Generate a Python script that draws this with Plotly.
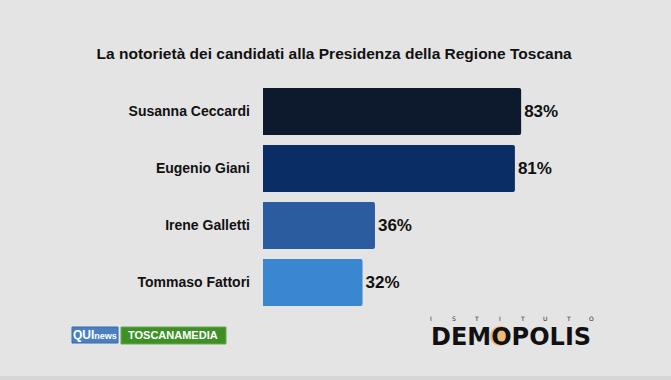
import plotly.graph_objects as go

candidates = ["Susanna Ceccardi", "Eugenio Giani", "Irene Galletti", "Tommaso Fattori"]
values = [83, 81, 36, 32]
colors = ["#0d1a2e", "#0b2d66", "#2b5ca0", "#3a86d1"]
title_text = "La notorietà dei candidati alla Presidenza della Regione Toscana"

W, H = 671, 380
L, R, T, B = 263, 97, 83, 69
FONT = "Liberation Sans, Arial, sans-serif"


def px_x(px):
    return (px - L) / (W - L - R)


def px_y(py):
    return (H - B - py) / (H - T - B)


fig = go.Figure(
    go.Bar(
        y=candidates,
        x=values,
        orientation="h",
        marker=dict(color=colors, line=dict(width=0), cornerradius=2),
        text=[f"{v}%" for v in values],
        textposition="outside",
        cliponaxis=False,
        textfont=dict(family=FONT, size=17, color="#111111", weight="bold"),
        hoverinfo="skip",
    )
)

shapes = []
annotations = []

# bottom strip
shapes.append(dict(type="rect", xref="paper", yref="paper",
                   x0=px_x(0), x1=px_x(W), y0=px_y(380), y1=px_y(376),
                   fillcolor="#d6d6d6", line=dict(width=0), layer="below"))

# QUInews logo
shapes.append(dict(type="rect", xref="paper", yref="paper",
                   x0=px_x(72), x1=px_x(118), y0=px_y(343), y1=px_y(327),
                   fillcolor="#4a80c2", line=dict(color="#3a6aa8", width=1)))
annotations.append(dict(xref="paper", yref="paper", x=px_x(95), y=px_y(335),
                        xanchor="center", yanchor="middle",
                        text="<b>QUI</b><span style='font-size:9px'><b>news</b></span>",
                        showarrow=False, font=dict(family=FONT, size=12, color="white")))
# TOSCANAMEDIA logo
shapes.append(dict(type="rect", xref="paper", yref="paper",
                   x0=px_x(121), x1=px_x(226), y0=px_y(344), y1=px_y(327),
                   fillcolor="#3d8f26", line=dict(color="#6aa84a", width=1)))
annotations.append(dict(xref="paper", yref="paper", x=px_x(173), y=px_y(334.5),
                        xanchor="center", yanchor="middle",
                        text="<b>TOSCANAMEDIA</b>",
                        showarrow=False, font=dict(family=FONT, size=11, color="white")))

# DEMOPOLIS logo
shapes.append(dict(type="circle", xref="paper", yref="paper",
                   x0=px_x(490), x1=px_x(510), y0=px_y(346), y1=px_y(326),
                   fillcolor="#f0a030", opacity=0.6, line=dict(width=0)))
annotations.append(dict(xref="paper", yref="paper", x=px_x(511), y=px_y(337),
                        xanchor="center", yanchor="middle",
                        text="<b>DEMOPOLIS</b>", showarrow=False,
                        font=dict(family="DejaVu Sans, sans-serif", size=24, color="#111111")))
letters = "ISTITUTO"
for i, ch in enumerate(letters):
    xp = 431 + i * (591 - 431) / (len(letters) - 1)
    annotations.append(dict(xref="paper", yref="paper", x=px_x(xp), y=px_y(318),
                            xanchor="center", yanchor="middle",
                            text=ch, showarrow=False,
                            font=dict(family="DejaVu Sans, sans-serif", size=6, color="#222222")))

fig.update_layout(
    width=W, height=H,
    margin=dict(l=L, r=R, t=T, b=B),
    paper_bgcolor="#e4e4e4",
    plot_bgcolor="#e4e4e4",
    bargap=0.175,
    showlegend=False,
    title=dict(text=title_text, x=0.498, xanchor="center", y=1 - 54 / H, yanchor="middle",
               xref="container", yref="container",
               font=dict(family=FONT, size=15.5, color="#111111", weight="bold")),
    xaxis=dict(range=[0, 100], visible=False, fixedrange=True),
    yaxis=dict(autorange="reversed", showgrid=False, zeroline=False, showline=False,
               ticks="", ticklabelstandoff=12,
               tickfont=dict(family=FONT, size=14, color="#111111", weight="bold"),
               fixedrange=True),
    shapes=shapes,
    annotations=annotations,
)

fig.write_html("out.html", config={"displayModeBar": False},
               post_script="document.body.style.margin='0';")
